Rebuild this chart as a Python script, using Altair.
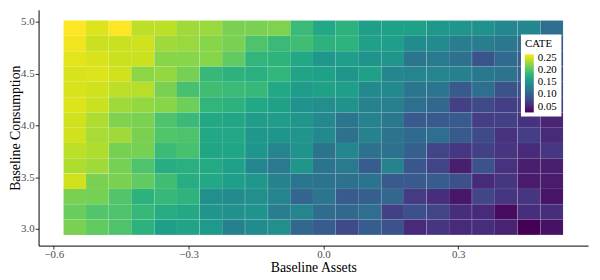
import altair as alt
import pandas as pd

# Column centres (Baseline Assets) and row centres (Baseline Consumption)
x_centers = [-0.553, -0.503, -0.452, -0.402, -0.351, -0.301, -0.250, -0.200,
             -0.149, -0.098, -0.048, 0.002, 0.053, 0.103, 0.154, 0.204,
             0.255, 0.305, 0.356, 0.406, 0.457, 0.508]
y_centers = [4.940, 4.792, 4.644, 4.496, 4.348, 4.200, 4.052,
             3.905, 3.757, 3.609, 3.461, 3.313, 3.165, 3.017]

# CATE per row (top row first), left to right
cate_r00 = [0.266, 0.254, 0.266, 0.242, 0.242, 0.232, 0.230, 0.218, 0.218, 0.220, 0.189, 0.170, 0.180, 0.160, 0.163, 0.163, 0.153, 0.151, 0.146, 0.136, 0.136, 0.112]
cate_r01 = [0.261, 0.247, 0.247, 0.249, 0.232, 0.230, 0.223, 0.218, 0.199, 0.189, 0.192, 0.180, 0.182, 0.163, 0.160, 0.141, 0.141, 0.127, 0.127, 0.122, 0.112, 0.093]
cate_r02 = [0.256, 0.252, 0.247, 0.247, 0.223, 0.223, 0.223, 0.208, 0.184, 0.182, 0.170, 0.153, 0.160, 0.148, 0.151, 0.120, 0.124, 0.115, 0.088, 0.108, 0.098, 0.084]
cate_r03 = [0.252, 0.254, 0.249, 0.225, 0.228, 0.216, 0.187, 0.180, 0.177, 0.184, 0.165, 0.163, 0.151, 0.163, 0.136, 0.134, 0.134, 0.129, 0.122, 0.117, 0.098, 0.081]
cate_r04 = [0.252, 0.249, 0.242, 0.240, 0.218, 0.196, 0.192, 0.189, 0.187, 0.170, 0.158, 0.163, 0.160, 0.139, 0.139, 0.120, 0.120, 0.093, 0.112, 0.086, 0.084, 0.079]
cate_r05 = [0.254, 0.247, 0.232, 0.228, 0.223, 0.213, 0.184, 0.180, 0.170, 0.163, 0.148, 0.144, 0.148, 0.132, 0.129, 0.112, 0.105, 0.072, 0.079, 0.069, 0.069, 0.074]
cate_r06 = [0.249, 0.237, 0.220, 0.218, 0.199, 0.189, 0.170, 0.168, 0.158, 0.158, 0.151, 0.139, 0.120, 0.132, 0.122, 0.093, 0.093, 0.093, 0.069, 0.072, 0.060, 0.050]
cate_r07 = [0.249, 0.235, 0.232, 0.218, 0.201, 0.199, 0.170, 0.170, 0.153, 0.151, 0.151, 0.139, 0.115, 0.132, 0.117, 0.108, 0.112, 0.093, 0.079, 0.060, 0.069, 0.055]
cate_r08 = [0.242, 0.237, 0.216, 0.216, 0.189, 0.196, 0.168, 0.168, 0.151, 0.134, 0.148, 0.117, 0.136, 0.115, 0.115, 0.098, 0.074, 0.064, 0.072, 0.062, 0.055, 0.064]
cate_r09 = [0.237, 0.232, 0.216, 0.199, 0.175, 0.177, 0.172, 0.163, 0.136, 0.124, 0.151, 0.117, 0.124, 0.096, 0.132, 0.091, 0.074, 0.045, 0.086, 0.060, 0.045, 0.045]
cate_r10 = [0.249, 0.218, 0.218, 0.208, 0.192, 0.175, 0.170, 0.160, 0.153, 0.132, 0.120, 0.117, 0.115, 0.117, 0.093, 0.093, 0.096, 0.084, 0.055, 0.062, 0.043, 0.043]
cate_r11 = [0.218, 0.216, 0.201, 0.180, 0.187, 0.182, 0.144, 0.141, 0.144, 0.134, 0.103, 0.120, 0.093, 0.098, 0.105, 0.067, 0.057, 0.040, 0.076, 0.062, 0.062, 0.038]
cate_r12 = [0.211, 0.201, 0.199, 0.187, 0.175, 0.170, 0.151, 0.146, 0.148, 0.127, 0.134, 0.110, 0.105, 0.112, 0.072, 0.084, 0.074, 0.057, 0.055, 0.033, 0.057, 0.057]
cate_r13 = [0.218, 0.208, 0.199, 0.180, 0.160, 0.165, 0.156, 0.129, 0.141, 0.144, 0.105, 0.096, 0.079, 0.096, 0.086, 0.055, 0.062, 0.055, 0.057, 0.048, 0.026, 0.036]

x_ticks = [-0.6, -0.3, 0.0, 0.3]
y_ticks = [3.0, 3.5, 4.0, 4.5, 5.0]
legend_ticks = [0.05, 0.10, 0.15, 0.20, 0.25]

rows = [cate_r00, cate_r01, cate_r02, cate_r03, cate_r04, cate_r05, cate_r06,
        cate_r07, cate_r08, cate_r09, cate_r10, cate_r11, cate_r12, cate_r13]

xw = (x_centers[-1] - x_centers[0]) / (len(x_centers) - 1) / 2
yh = (y_centers[0] - y_centers[-1]) / (len(y_centers) - 1) / 2

recs = []
for yc, row in zip(y_centers, rows):
    for xc, v in zip(x_centers, row):
        recs.append({"xa": xc - xw, "xb": xc + xw, "ya": yc - yh, "yb": yc + yh, "cate": v})
df = pd.DataFrame(recs)

x_lo, x_hi = x_centers[0] - xw, x_centers[-1] + xw
y_lo, y_hi = y_centers[-1] - yh, y_centers[0] + yh
xe = 0.05 * (x_hi - x_lo)
ye = 0.05 * (y_hi - y_lo)
all_vals = [v for r in rows for v in r]

FONT = "Liberation Serif"

chart = alt.Chart(df).mark_rect(
    stroke="white", strokeWidth=0.5, strokeOpacity=0.1
).encode(
    x=alt.X("xa:Q",
            scale=alt.Scale(domain=[x_lo - xe, x_hi + xe], nice=False, zero=False),
            axis=alt.Axis(values=x_ticks, format=".1f", title="Baseline Assets",
                          titlePadding=0.5, labelPadding=0)),
    x2="xb:Q",
    y=alt.Y("ya:Q",
            scale=alt.Scale(domain=[y_lo - ye, y_hi + ye], nice=False, zero=False),
            axis=alt.Axis(values=y_ticks, format=".1f", title="Baseline Consumption",
                          titleX=-19, titleY=119.5, titleAngle=270,
                          titleAlign="center", titleBaseline="alphabetic",
                          labelPadding=1)),
    y2="yb:Q",
    color=alt.Color("cate:Q",
                    scale=alt.Scale(scheme="viridis",
                                    domain=[min(all_vals), max(all_vals)],
                                    nice=False, zero=False),
                    legend=alt.Legend(title="CATE", orient="none", legendX=489, legendY=25,
                                      values=legend_ticks, format=".2f",
                                      gradientLength=59, gradientThickness=9,
                                      fillColor="white", padding=4,
                                      titleFont=FONT, titleFontSize=11,
                                      titleFontWeight=400, titleColor="black",
                                      titlePadding=5,
                                      labelFont=FONT, labelFontSize=11, labelColor="black",
                                      labelOffset=4)),
).properties(
    width=557, height=239,
    autosize=alt.AutoSizeParams(type="none"),
    padding={"left": 31, "top": 0, "right": 4, "bottom": 33},
).configure_view(
    stroke=None
).configure_legend(
    titleFontWeight=400
).configure_axis(
    grid=False,
    domainColor="black", domainWidth=1,
    tickColor="#333333", tickSize=3.5, tickWidth=1,
    labelFont=FONT, labelFontSize=11, labelColor="#4d4d4d",
    titleFont=FONT, titleFontSize=14, titleFontWeight="normal", titleColor="black",
)

chart.save("out.html", embed_options={"renderer": "svg", "actions": False})
